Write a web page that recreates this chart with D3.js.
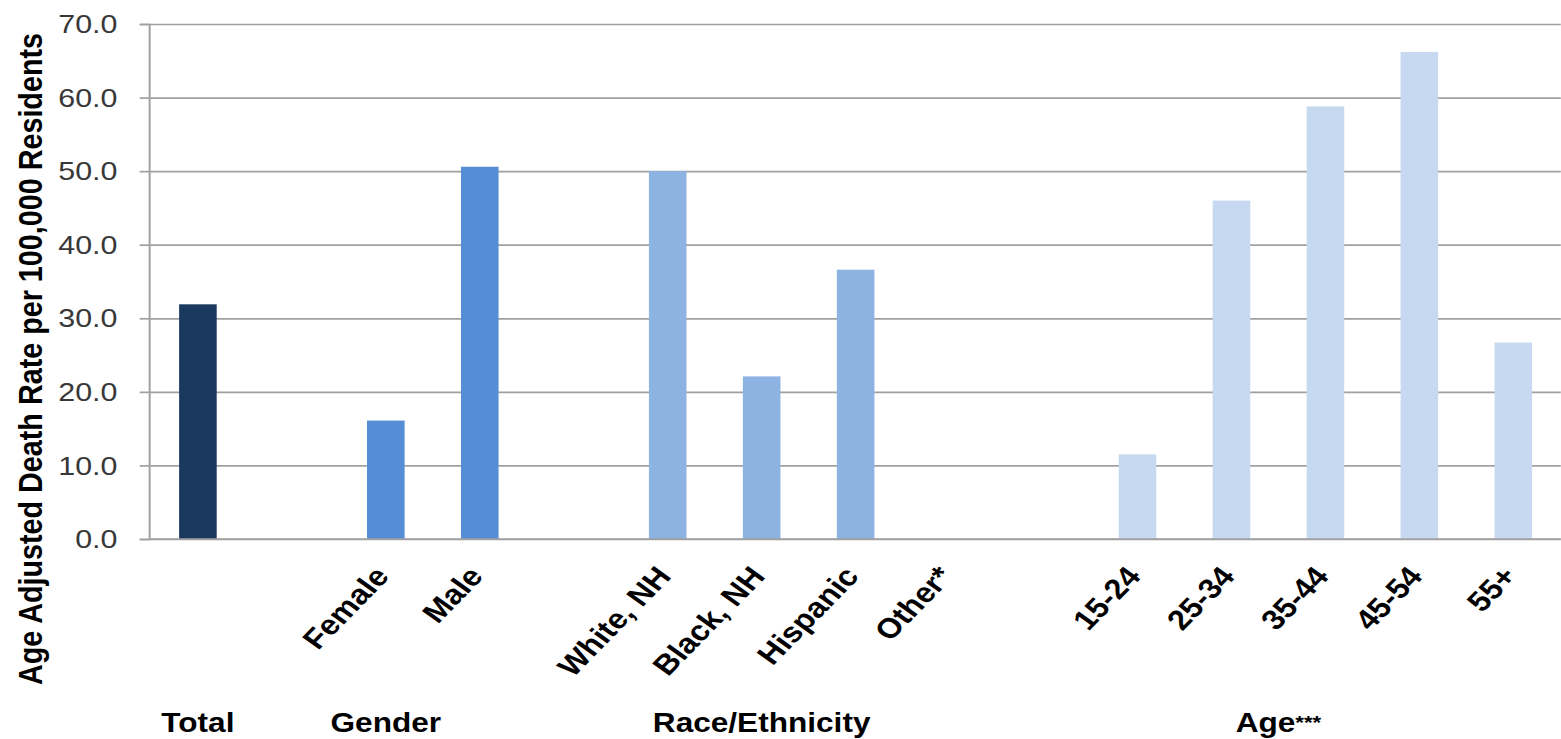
<!DOCTYPE html>
<html>
<head>
<meta charset="utf-8">
<script src="https://cdn.jsdelivr.net/npm/d3@7"></script>
<style>
  html, body { margin: 0; padding: 0; background: #ffffff; }
  svg { display: block; font-family: "Liberation Sans", Arial, sans-serif; }
</style>
</head>
<body>
<svg id="chart" width="1561" height="739"></svg>
<script>
// Age adjusted death rate per 100,000 residents, by population group.
// Blank categories are the spacer columns that open each group.
const categories = ["", "", "Female", "Male", "", "White, NH", "Black, NH", "Hispanic", "Other*",
                    "", "15-24", "25-34", "35-44", "45-54", "55+"];
const categoryGroup = ["Total",
                       "Gender", "Gender", "Gender",
                       "Race/Ethnicity", "Race/Ethnicity", "Race/Ethnicity", "Race/Ethnicity", "Race/Ethnicity",
                       "Age***", "Age***", "Age***", "Age***", "Age***", "Age***"];
const rates = [31.9, null, 16.1, 50.6, null, 50.0, 22.1, 36.6, null,
               null, 11.5, 46.0, 58.8, 66.2, 26.7];
const groupNames = ["Total", "Gender", "Race/Ethnicity", "Age***"];
const yTicks = [0, 10, 20, 30, 40, 50, 60, 70];
const yTitle = "Age Adjusted Death Rate  per 100,000 Residents";

const groupColor = d3.scaleOrdinal()
  .domain(groupNames)
  .range(["#1b395e", "#558ed5", "#8db3e2", "#c6d9f1"]);

// The drawing is laid out in a slightly condensed frame and widened horizontally.
const sx = 1.17;
const svg = d3.select("#chart");
const g = svg.append("g").attr("transform", `scale(${sx},1)`);

const axisX = 127.4;
const plotRight = 1334;
const y0 = 539, yTop = 24;

const idx = d3.range(categories.length);
const x = d3.scaleBand()
  .domain(idx)
  .range([129, 1333.6])
  .paddingInner(0.6)
  .paddingOuter(0.3);

const y = d3.scaleLinear().domain([0, 70]).range([y0, yTop]);

// Horizontal gridlines
g.append("g")
  .attr("transform", `translate(${axisX},0)`)
  .call(d3.axisLeft(y).tickValues(yTicks).tickSize(-(plotRight - axisX)).tickFormat(""))
  .call(a => a.select(".domain").remove())
  .call(a => a.selectAll("line").attr("stroke", "#a0a0a0").attr("stroke-width", 1.7));

// Y axis with tick labels
g.append("g")
  .attr("transform", `translate(${axisX},0)`)
  .call(d3.axisLeft(y).tickValues(yTicks).tickSize(8).tickPadding(19).tickFormat(d3.format(".1f")))
  .call(a => a.select(".domain").attr("stroke", "#a0a0a0").attr("stroke-width", 1.7))
  .call(a => a.selectAll("line").attr("stroke", "#a0a0a0").attr("stroke-width", 1.7))
  .call(a => a.selectAll("text")
    .attr("font-size", 26)
    .attr("font-family", "'Liberation Sans', Arial, sans-serif")
    .attr("fill", "#383838")
    .attr("dy", "0.33em"));

// Bars
g.append("g")
  .selectAll("rect")
  .data(idx.filter(i => rates[i] != null))
  .join("rect")
  .attr("x", i => x(i))
  .attr("width", x.bandwidth())
  .attr("y", i => y(rates[i]))
  .attr("height", i => y(0) - y(rates[i]))
  .attr("fill", i => groupColor(categoryGroup[i]));

// X axis with rotated category labels
g.append("g")
  .attr("transform", `translate(0,${y0})`)
  .call(d3.axisBottom(x).tickSize(0).tickFormat(i => categories[i]))
  .call(a => a.select(".domain").attr("stroke", "#a0a0a0").attr("stroke-width", 1.7).attr("d", `M${axisX},0H${plotRight}`))
  .call(a => a.selectAll("text")
    .attr("font-size", 28)
    .attr("font-weight", "bold")
    .attr("font-family", "'Liberation Sans', Arial, sans-serif")
    .attr("fill", "#000000")
    .attr("text-anchor", "end")
    .attr("x", 0).attr("y", 0).attr("dy", 0)
    .attr("transform", "translate(4,38) rotate(-50)"));

// Group labels, centred under each group's columns; trailing asterisks are set small
const groupLabel = g.append("g")
  .selectAll("text")
  .data(groupNames)
  .join("text")
  .attr("x", name => d3.mean(idx.filter(i => categoryGroup[i] === name), i => x(i) + x.bandwidth() / 2))
  .attr("y", 732)
  .attr("text-anchor", "middle")
  .attr("font-size", 27)
  .attr("font-weight", "bold")
  .attr("fill", "#000000");

groupLabel.append("tspan").text(d => d.replace(/\*+$/, ""));
groupLabel.append("tspan")
  .attr("font-size", 19)
  .attr("dy", -3)
  .text(d => (d.match(/\*+$/) || [""])[0]);

// Y axis title
g.append("text")
  .attr("transform", `translate(36,${(33 + 685) / 2}) rotate(-90)`)
  .attr("text-anchor", "middle")
  .attr("font-size", 28)
  .attr("font-weight", "bold")
  .attr("fill", "#000000")
  .attr("textLength", 652)
  .attr("lengthAdjust", "spacingAndGlyphs")
  .text(yTitle);
</script>
</body>
</html>
